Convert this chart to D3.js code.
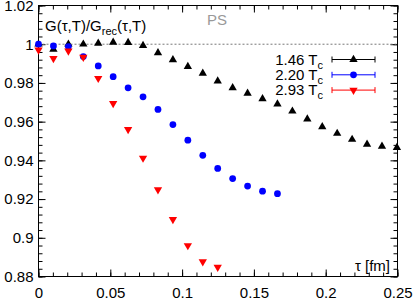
<!DOCTYPE html>
<html>
<head>
<meta charset="utf-8">
<script src="https://cdn.jsdelivr.net/npm/d3@7"></script>
<style>
  body { margin: 0; background: #fff; }
  text { font-family: "Liberation Sans", Arial, sans-serif; }
</style>
</head>
<body>
<script>
// data
var tauStep = 0.0104; // fm, spacing of the tau points

var ratio146 = [1.000, 0.9974, 1.000, 1.000, 1.0005, 1.001, 1.0008, 0.9993, 0.9956, 0.9919,
                0.9884, 0.985, 0.981, 0.9775, 0.9746, 0.9718, 0.9691, 0.9654, 0.9613, 0.9573,
                0.9539, 0.9508, 0.9483, 0.9473, 0.9466];
var ratio220 = [1.000, 0.9991, 0.9988, 0.9936, 0.9888, 0.9832, 0.9775, 0.9728, 0.9663, 0.9585,
                0.9504, 0.9426, 0.9358, 0.9306, 0.9267, 0.9241, 0.9228];
var ratio293 = [0.997, 0.9927, 0.9965, 0.9933, 0.9824, 0.9694, 0.956, 0.9412, 0.9249, 0.9095,
                0.896, 0.8877, 0.8848];

var seriesNames = ["1.46", "2.20", "2.93"];

var xTicks = [0, 0.05, 0.1, 0.15, 0.2, 0.25];
var xTickLabels = ["0", "0.05", "0.1", "0.15", "0.2", "0.25"];
var yTicks = [0.88, 0.9, 0.92, 0.94, 0.96, 0.98, 1, 1.02];
var yTickLabels = ["0.88", "0.9", "0.92", "0.94", "0.96", "0.98", "1", "1.02"];

//svg container
var width = 415,
    height = 300;

var svg = d3.select("body")
    .append("svg")
    .attr("width", width)
    .attr("height", height);

var plotLeft = 38.5, plotRight = 397.5, plotTop = 5.5, plotBottom = 276.5;

var x = d3.scaleLinear().domain([0, 0.25]).range([plotLeft, plotRight]);
var y = d3.scaleLinear().domain([0.88, 1.02]).range([plotBottom, plotTop]);

//minor tick positions
var xMinor = d3.range(0, 26).map(function(i){ return i * 0.01; });
var yMinor = d3.range(0, 36).map(function(i){ return 0.88 + i * 0.004; });

function styleAxis(g){
    g.select(".domain").remove();
    g.selectAll("line").attr("stroke", "#000").attr("stroke-width", 1);
    g.selectAll("text").attr("fill", "#000").style("font-size", "15px")
        .style("font-family", "'Liberation Sans', Arial, sans-serif");
}

//minor ticks, all four sides
svg.append("g").attr("transform", "translate(0," + plotBottom + ")")
    .call(d3.axisBottom(x).tickValues(xMinor).tickSize(-4).tickFormat(""))
    .call(styleAxis);
svg.append("g").attr("transform", "translate(0," + plotTop + ")")
    .call(d3.axisTop(x).tickValues(xMinor).tickSize(-4).tickFormat(""))
    .call(styleAxis);
svg.append("g").attr("transform", "translate(" + plotLeft + ",0)")
    .call(d3.axisLeft(y).tickValues(yMinor).tickSize(-4).tickFormat(""))
    .call(styleAxis);
svg.append("g").attr("transform", "translate(" + plotRight + ",0)")
    .call(d3.axisRight(y).tickValues(yMinor).tickSize(-4).tickFormat(""))
    .call(styleAxis);

//major ticks with labels
svg.append("g").attr("transform", "translate(0," + plotBottom + ")")
    .call(d3.axisBottom(x).tickValues(xTicks).tickSize(-7).tickPadding(11)
        .tickFormat(function(d, i){ return xTickLabels[i]; }))
    .call(styleAxis);
svg.append("g").attr("transform", "translate(0," + plotTop + ")")
    .call(d3.axisTop(x).tickValues(xTicks).tickSize(-7).tickFormat(""))
    .call(styleAxis);
svg.append("g").attr("transform", "translate(" + plotLeft + ",0)")
    .call(d3.axisLeft(y).tickValues(yTicks).tickSize(-7).tickPadding(5)
        .tickFormat(function(d, i){ return yTickLabels[i]; }))
    .call(styleAxis);
svg.append("g").attr("transform", "translate(" + plotRight + ",0)")
    .call(d3.axisRight(y).tickValues(yTicks).tickSize(-7).tickFormat(""))
    .call(styleAxis);

//frame
svg.append("rect")
    .attr("x", plotLeft).attr("y", plotTop)
    .attr("width", plotRight - plotLeft).attr("height", plotBottom - plotTop)
    .attr("fill", "none").attr("stroke", "#000").attr("stroke-width", 1);

//dashed line at 1
svg.append("line")
    .attr("x1", plotLeft).attr("x2", plotRight)
    .attr("y1", y(1)).attr("y2", y(1))
    .attr("stroke", "#777").attr("stroke-width", 1)
    .attr("stroke-dasharray", "2,2");

//series
var triUp = d3.symbol().type(d3.symbolTriangle).size(30),
    circ = d3.symbol().type(d3.symbolCircle).size(36);

var series = [
    {name: seriesNames[0], values: ratio146, color: "#000", sym: triUp, rot: 0},
    {name: seriesNames[1], values: ratio220, color: "#0000ff", sym: circ, rot: 0},
    {name: seriesNames[2], values: ratio293, color: "#ff0000", sym: triUp, rot: 180}
];

series.forEach(function(s){
    svg.append("g").selectAll("path")
        .data(s.values)
        .enter()
        .append("path")
        .attr("d", s.sym)
        .attr("transform", function(d, i){
            return "translate(" + x(i * tauStep) + "," + y(d) + ") rotate(" + s.rot + ")";
        })
        .attr("fill", s.color);
});

//legend
var legend = svg.append("g");
series.forEach(function(s, i){
    var ly = 59.5 + i * 15.3;
    var t = legend.append("text")
        .attr("x", 323).attr("y", ly + 5)
        .attr("text-anchor", "end")
        .style("font-size", "15px");
    t.append("tspan").text(s.name + " T");
    t.append("tspan").attr("dy", 4).style("font-size", "11px").text("c");

    legend.append("line")
        .attr("x1", 332).attr("x2", 375).attr("y1", ly).attr("y2", ly)
        .attr("stroke", s.color).attr("stroke-width", 1);
    [332, 375].forEach(function(cx){
        legend.append("line")
            .attr("x1", cx).attr("x2", cx).attr("y1", ly - 3).attr("y2", ly + 3)
            .attr("stroke", s.color).attr("stroke-width", 1);
    });
    legend.append("path")
        .attr("d", s.sym)
        .attr("transform", "translate(353.5," + ly + ") rotate(" + s.rot + ")")
        .attr("fill", s.color);
});

//title inside the plot
var title = svg.append("text")
    .attr("x", 45).attr("y", 31)
    .style("font-size", "15px");
title.append("tspan").text("G(\u03c4,T)/G");
title.append("tspan").attr("dy", 4).style("font-size", "11px").text("rec");
title.append("tspan").attr("dy", -4).text("(\u03c4,T)");

svg.append("text")
    .attr("x", 217).attr("y", 25)
    .attr("text-anchor", "middle")
    .attr("fill", "#999")
    .style("font-size", "15px")
    .text("PS");

svg.append("text")
    .attr("x", 390).attr("y", 271)
    .attr("text-anchor", "end")
    .style("font-size", "15px")
    .text("\u03c4 [fm]");
</script>
</body>
</html>
